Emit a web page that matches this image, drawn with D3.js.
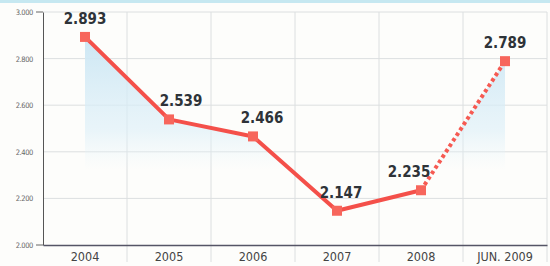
<!DOCTYPE html>
<html>
<head>
<meta charset="utf-8">
<script src="https://cdn.jsdelivr.net/npm/d3@7"></script>
<style>
  html, body { margin: 0; padding: 0; background: #fdfdfb; }
  svg { display: block; }
</style>
</head>
<body>
<svg id="chart"></svg>
<script>
// data
const categories = ["2004", "2005", "2006", "2007", "2008", "JUN. 2009"];
const values = [2893, 2539, 2466, 2147, 2235, 2789];
const labels = ["2.893", "2.539", "2.466", "2.147", "2.235", "2.789"];
const yTicks = [2000, 2200, 2400, 2600, 2800, 3000];
const labelShift = [0, 12, 9, 4, -12, 0]; // label nudge relative to point

const svgWidth = 550;
const svgHeight = 266;
const margin = { top: 12, right: 3, bottom: 21, left: 43 };
const width = svgWidth - margin.left - margin.right;
const height = svgHeight - margin.top - margin.bottom;

const svg = d3.select("#chart")
  .attr("width", svgWidth)
  .attr("height", svgHeight);

// scanned page look: a cyan strip along the top edge
svg.append("rect")
  .attr("x", 0).attr("y", 0)
  .attr("width", svgWidth).attr("height", 3)
  .attr("fill", "#c6e8f1");

const x = d3.scaleBand()
  .domain(categories)
  .range([margin.left, margin.left + width])
  .padding(0);

const y = d3.scaleLinear()
  .domain([2000, 3000])
  .range([margin.top + height, margin.top]);

const fmt = d => d3.format(",.0f")(d).replace(",", ".");

// gradient for the area under the line
const defs = svg.append("defs");
const grad = defs.append("linearGradient")
  .attr("id", "areaGrad")
  .attr("gradientUnits", "userSpaceOnUse")
  .attr("x1", 0).attr("x2", 0)
  .attr("y1", y(2880)).attr("y2", y(2320));
grad.append("stop").attr("offset", "0%").attr("stop-color", "#cde7f4").attr("stop-opacity", 1);
grad.append("stop").attr("offset", "70%").attr("stop-color", "#dceff8").attr("stop-opacity", 0.6);
grad.append("stop").attr("offset", "100%").attr("stop-color", "#e8f5fa").attr("stop-opacity", 0);

// horizontal grid lines
svg.append("g")
  .selectAll("line")
  .data(yTicks.slice(1))
  .enter()
  .append("line")
  .attr("x1", margin.left)
  .attr("x2", margin.left + width)
  .attr("y1", d => y(d))
  .attr("y2", d => y(d))
  .attr("stroke", "#dcdfe0")
  .attr("stroke-width", 1);

// vertical grid lines between categories (run down past the axis)
svg.append("g")
  .selectAll("line")
  .data(categories.slice(1).concat(["end"]))
  .enter()
  .append("line")
  .attr("x1", (d, i) => i < categories.length - 1 ? x(d) : margin.left + width)
  .attr("x2", (d, i) => i < categories.length - 1 ? x(d) : margin.left + width)
  .attr("y1", margin.top)
  .attr("y2", svgHeight - 4)
  .attr("stroke", "#dcdfe0")
  .attr("stroke-width", 1);

const cx = d => x(d) + x.bandwidth() / 2;
const pts = categories.map((c, i) => ({ cat: c, v: values[i] }));

// area
const area = d3.area()
  .x(d => cx(d.cat))
  .y0(y(2000))
  .y1(d => y(d.v));
svg.append("path")
  .datum(pts)
  .attr("d", area)
  .attr("fill", "url(#areaGrad)");

// y axis
const yAxis = svg.append("g")
  .attr("transform", `translate(${margin.left},0)`)
  .call(d3.axisLeft(y).tickValues(yTicks).tickSize(0).tickPadding(10).tickFormat(fmt));
yAxis.select(".domain").attr("stroke", "#555").attr("stroke-width", 1);
yAxis.selectAll("text")
  .attr("fill", "#666")
  .style("font-family", "'DejaVu Sans Condensed', 'Liberation Sans Narrow', sans-serif")
  .style("font-size", "7.5px")
  .style("letter-spacing", "-0.4px");
// little tick stubs at the ends
svg.append("g")
  .selectAll("line")
  .data([2000, 3000])
  .enter()
  .append("line")
  .attr("x1", margin.left - 7).attr("x2", margin.left)
  .attr("y1", d => y(d)).attr("y2", d => y(d))
  .attr("stroke", "#666");

// x axis
const xAxis = svg.append("g")
  .attr("transform", `translate(0,${y(2000)})`)
  .call(d3.axisBottom(x).tickSize(0).tickPadding(7));
xAxis.select(".domain").attr("stroke", "#556").attr("stroke-width", 1.3);
xAxis.selectAll("text")
  .attr("fill", "#444")
  .style("font-family", "'DejaVu Sans Condensed', 'Liberation Sans Narrow', sans-serif")
  .style("font-size", "12.5px");

// line: solid for the yearly values, dotted to the mid-year value
const line = d3.line().x(d => cx(d.cat)).y(d => y(d.v));
svg.append("path")
  .datum(pts.slice(0, 5))
  .attr("d", line)
  .attr("fill", "none")
  .attr("stroke", "#f4504a")
  .attr("stroke-width", 4)
  .attr("stroke-linejoin", "round");
svg.append("path")
  .datum(pts.slice(4))
  .attr("d", line)
  .attr("fill", "none")
  .attr("stroke", "#f65a52")
  .attr("stroke-width", 4)
  .attr("stroke-dasharray", "3.5,3");

// square markers
svg.append("g")
  .selectAll("rect")
  .data(pts)
  .enter()
  .append("rect")
  .attr("x", d => cx(d.cat) - 5)
  .attr("y", d => y(d.v) - 5)
  .attr("width", 10)
  .attr("height", 10)
  .attr("fill", "#f7665c");

// value labels
svg.append("g")
  .selectAll("text")
  .data(pts)
  .enter()
  .append("text")
  .attr("x", (d, i) => cx(d.cat) + labelShift[i])
  .attr("y", d => y(d.v) - 13)
  .attr("text-anchor", "middle")
  .attr("fill", "#2e3338")
  .style("font-family", "'DejaVu Sans Condensed', 'Liberation Sans Narrow', sans-serif")
  .style("font-weight", "bold")
  .style("font-size", "15px")
  .text((d, i) => labels[i]);
</script>
</body>
</html>
